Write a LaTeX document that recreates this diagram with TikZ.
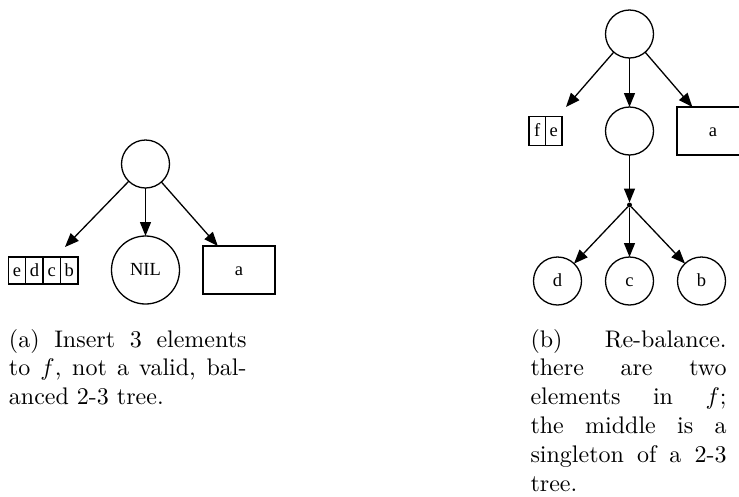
\documentclass[tikz,border=0pt]{standalone}
\usepackage{graphicx}
\usepackage{fontspec}
\newfontfamily\nodefont{Liberation Serif}
\usetikzlibrary{arrows.meta}
\begin{document}
\begin{tikzpicture}[x=1pt,y=-1pt,
  every node/.style={inner sep=0pt, outer sep=0pt},
  gv/.style={draw, line width=1.3pt, font=\nodefont\fontsize{18.5}{20}\selectfont,
    text height=12.5pt, text depth=1.5pt},
  circ/.style={gv, circle, minimum size=48pt},
  nilc/.style={gv, circle, minimum size=68pt},
  box/.style={gv, rectangle, minimum width=72pt, minimum height=48pt},
  cell/.style={gv, rectangle, minimum width=17.4pt, minimum height=27pt},
  cellb/.style={gv, rectangle, minimum width=16.5pt, minimum height=29pt},
  arr/.style={line width=1.3pt, -{Triangle[length=14pt,width=11pt]}},
  dotnode/.style={circle, fill, minimum size=5pt},
  captext/.style={anchor=base west, inner sep=0pt}
]
\useasboundingbox (0,0) rectangle (739,496);

% ---- left tree (a)
\node[circ] (t1) at (145.5,164) {};
\node[cell] (ce) at (17.0,270.5) {e};
\node[cell] (cd) at (34.4,270.5) {d};
\node[cell] (cc) at (51.8,270.5) {c};
\node[cell] (cb) at (69.2,270.5) {b};
\coordinate (tl) at (65,247);
\node[nilc] (nil) at (145.5,270) {NIL};
\node[box] (a1) at (239,270) {a};
\draw[arr] (t1) -- (tl);
\draw[arr] (t1) -- (nil);
\draw[arr] (t1) -- (a1);

% ---- right tree (b)
\node[circ] (t2) at (629.5,34) {};
\node[cellb] (cf) at (537.25,131) {f};
\node[cellb] (ce2) at (553.75,131) {e};
\coordinate (tr) at (566,107);
\node[circ] (m2) at (629.5,131) {};
\node[box] (a2) at (713,131) {a};
\draw[arr] (t2) -- (tr);
\draw[arr] (t2) -- (m2);
\draw[arr] (t2) -- (a2);
\node[dotnode] (dt) at (629.5,205) {};
\draw[arr] (m2) -- (dt);
\node[circ] (nd) at (557.5,281) {d};
\node[circ] (nc) at (629.5,281) {c};
\node[circ] (nb) at (701.5,281) {b};
\draw[arr] (dt) -- (nd);
\draw[arr] (dt) -- (nc);
\draw[arr] (dt) -- (nb);

% ---- captions
\node[captext] (capa) at (9,347) {\scalebox{2.4}{\parbox[t]{99pt}{(a) Insert 3 elements\linebreak to $f$, not a valid, bal-\linebreak anced 2-3 tree.}}};
\node[captext] (capb) at (530.5,347) {\scalebox{2.4}{\parbox[t]{81.7pt}{(b) Re-balance.\linebreak there are two\linebreak elements in $f$;\linebreak the middle is a\linebreak singleton of a 2-3\linebreak tree.}}};
\end{tikzpicture}
\end{document}
